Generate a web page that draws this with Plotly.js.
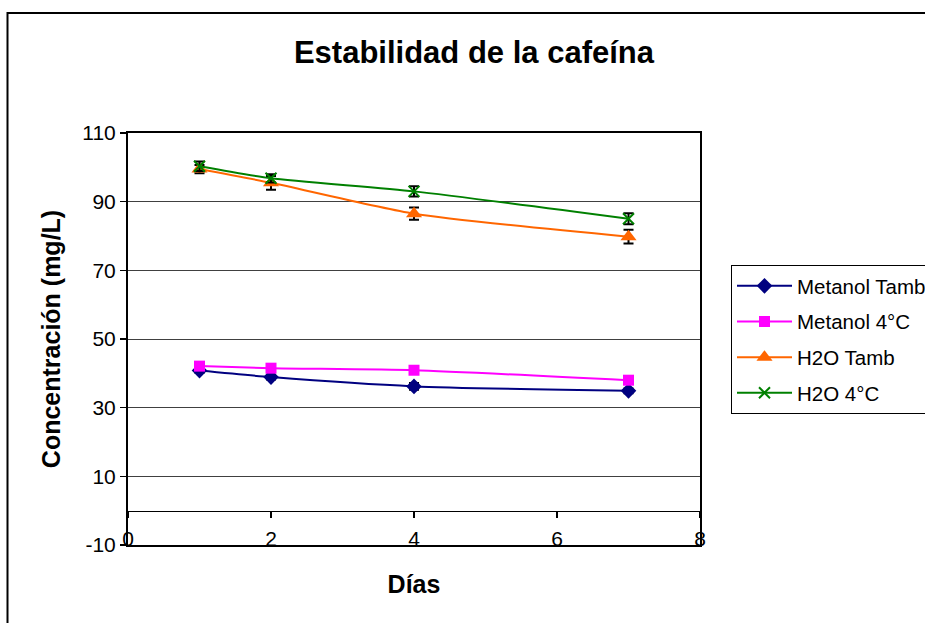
<!DOCTYPE html>
<html>
<head>
<meta charset="utf-8">
<script src="https://cdn.plot.ly/plotly-3.0.1.min.js"></script>
<style>html,body{margin:0;padding:0;background:#fff;}#chart{width:925px;height:623px;}</style>
</head>
<body>
<div id="chart"></div>
<script>
const dias = [1, 2, 4, 7];
const seriesNames = ["Metanol Tamb", "Metanol 4°C", "H2O Tamb", "H2O 4°C"];
const metanolTamb = [40.8, 38.9, 36.2, 34.9];
const metanolTambErr = [0.6, 0.7, 1.0, 0.7];
const metanol4C = [42.1, 41.5, 40.9, 38.0];
const metanol4CErr = [1.0, 0.8, 0.9, 0.9];
const h2oTamb = [99.5, 95.5, 86.5, 79.8];
const h2oTambErr = [1.2, 2.0, 1.8, 2.0];
const h2o4C = [100.3, 96.8, 93.0, 85.0];
const h2o4CErr = [1.4, 1.2, 1.5, 1.6];
const xTicks = [0, 2, 4, 6, 8];
const yTicks = [-10, 10, 30, 50, 70, 90, 110];

const FONT = '"Liberation Sans", Arial, sans-serif';
const colors = ["#000080", "#FF00FF", "#FF6600", "#008000"];
const symbols = ["diamond", "square", "triangle-up", "x-thin-open"];
const sizes = [12, 11, 14, 11];
const ys = [metanolTamb, metanol4C, h2oTamb, h2o4C];
const errs = [metanolTambErr, metanol4CErr, h2oTambErr, h2o4CErr];

const traces = seriesNames.map((name, i) => ({
  type: 'scatter', mode: 'lines+markers', name: name,
  x: dias, y: ys[i], legendgroup: 'g' + i,
  line: {color: colors[i], width: 2, shape: 'spline', smoothing: 0.6},
  marker: {symbol: symbols[i], size: sizes[i], color: colors[i],
           line: {color: colors[i], width: i === 3 ? 2 : 0}},
  error_y: {type: 'data', array: errs[i], visible: true, color: '#000', thickness: 2, width: 5},
  cliponaxis: false
}));
// helper to activate the x-axis that sits at y = 0
traces.push({type: 'scatter', mode: 'none', x: dias, y: metanolTamb, xaxis: 'x2', yaxis: 'y',
  showlegend: false, hoverinfo: 'skip'});

const layout = {
  width: 925, height: 623,
  margin: {l: 128, r: 225, t: 133, b: 78, autoexpand: false},
  paper_bgcolor: '#fff', plot_bgcolor: '#fff',
  font: {family: FONT, color: '#000', size: 21},
  showlegend: true,
  title: {text: '<b>Estabilidad de la cafeína</b>', font: {family: FONT, size: 31, color: '#000'},
          x: 0.5124, xref: 'container', y: 0.9165, yref: 'container', xanchor: 'center', yanchor: 'middle'},
  xaxis: {
    range: [0, 8], tickvals: xTicks, ticktext: xTicks.map(String),
    ticks: '', ticklabelposition: 'outside', ticklabelstandoff: -26, ticklabeloverflow: 'allow',
    showgrid: false, zeroline: false,
    showline: true, linecolor: '#000', linewidth: 2, mirror: true,
    tickfont: {family: FONT, size: 21, color: '#000'},
    title: {text: '<b>Días</b>', font: {family: FONT, size: 25, color: '#000'}, standoff: 26}
  },
  xaxis2: {
    range: [0, 8], tickvals: xTicks, ticktext: xTicks.map(() => ''), overlaying: 'x', anchor: 'free', position: 10 / 120,
    ticks: 'outside', ticklen: 6, tickwidth: 1.5, tickcolor: '#000',
    showticklabels: true, showgrid: false, zeroline: false,
    showline: true, linecolor: '#000', linewidth: 1.5
  },
  yaxis: {
    range: [-10, 110], tickvals: yTicks, ticktext: yTicks.map(String),
    ticks: 'outside', ticklen: 6, tickwidth: 1.5, tickcolor: '#000',
    showgrid: true, gridcolor: '#404040', gridwidth: 1, zeroline: false,
    showline: true, linecolor: '#000', linewidth: 2, mirror: true,
    tickfont: {family: FONT, size: 21, color: '#000'},
    title: {text: '<b>Concentración (mg/L)</b>', font: {family: FONT, size: 25, color: '#000'}, standoff: 15}
  },
  legend: {
    x: (731 - 128) / 572, y: (545 - 265) / 412, xanchor: 'left', yanchor: 'top',
    bgcolor: '#fff', bordercolor: '#000', borderwidth: 1,
    font: {family: FONT, size: 20.5, color: '#000'},
    tracegroupgap: 6, itemwidth: 55
  },
  shapes: [{type: 'rect', xref: 'paper', yref: 'paper',
    x0: (7.5 - 128) / 572, x1: 2, y0: -1, y1: (545 - 13) / 412,
    line: {color: '#000', width: 2}, fillcolor: 'rgba(0,0,0,0)', layer: 'below'}]
};

Plotly.newPlot('chart', traces, layout, {displayModeBar: false, staticPlot: true});
</script>
</body>
</html>
